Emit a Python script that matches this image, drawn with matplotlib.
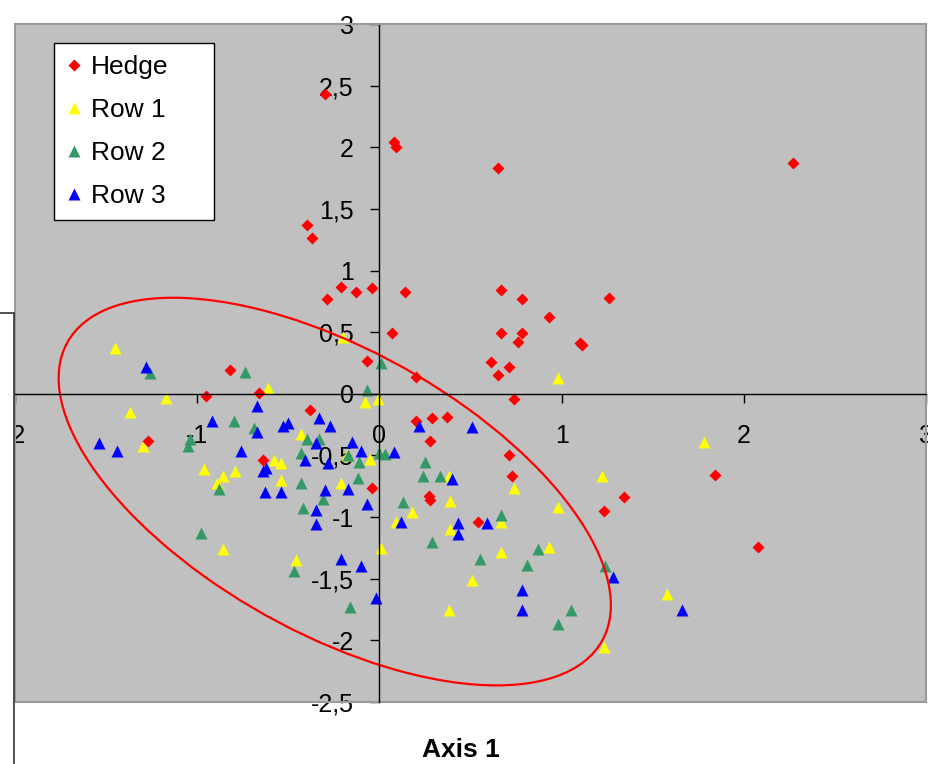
import numpy as np
import matplotlib
matplotlib.use("Agg")
import matplotlib.pyplot as plt
from matplotlib.patches import Ellipse, Rectangle
from matplotlib.ticker import FuncFormatter, MultipleLocator

matplotlib.rcParams['font.family'] = 'Liberation Sans'

# Hedge samples (axis 1, axis 2)
hedge_x = [-0.30, 0.08, 0.09, 0.65, 2.27, -0.40, -0.37, -0.29, -0.21, -0.13,
           -0.04, 0.14, 0.67, 0.78, 1.26, 0.93, 0.67, 0.07, 0.78, 0.76,
           1.11, 1.10, 0.61, 0.71, 0.65, -0.07, 0.20, -0.82, -0.95, -0.66,
           0.74, -0.38, 0.20, 0.29, 0.37, 0.28, -1.27, -0.64, -0.04, 0.28,
           0.27, 0.71, 0.73, 0.54, 1.23, 1.34, 1.84, 2.08]
hedge_y = [2.43, 2.04, 2.00, 1.83, 1.87, 1.37, 1.26, 0.77, 0.87, 0.83,
           0.86, 0.83, 0.84, 0.77, 0.78, 0.62, 0.49, 0.49, 0.49, 0.42,
           0.40, 0.41, 0.26, 0.22, 0.15, 0.27, 0.14, 0.19, -0.02, 0.01,
           -0.04, -0.13, -0.22, -0.20, -0.19, -0.38, -0.38, -0.54, -0.76, -0.86,
           -0.83, -0.50, -0.67, -1.04, -0.95, -0.84, -0.66, -1.24]

# Row 1
row1_x = [-1.45, -1.17, -1.37, -1.30, -0.61, -0.96, -0.86, -0.89, -0.79, -0.58,
          -0.54, -0.54, -0.43, -0.08, -0.01, -0.18, -0.05, -0.21, 0.09, 0.18,
          0.39, 0.38, 0.39, 0.01, -0.46, -0.86, 0.38, 0.51, -0.20, 0.98,
          0.74, 1.22, 0.98, 0.67, 0.93, 0.67, 1.58, 1.23, 1.78]
row1_y = [0.37, -0.03, -0.15, -0.42, 0.05, -0.61, -0.67, -0.72, -0.63, -0.54,
          -0.56, -0.70, -0.33, -0.07, -0.04, -0.50, -0.53, -0.72, -1.04, -0.96,
          -0.87, -0.67, -1.10, -1.25, -1.35, -1.26, -1.75, -1.51, 0.46, 0.13,
          -0.76, -0.67, -0.92, -1.04, -1.24, -1.28, -1.62, -2.05, -0.39]

# Row 2
row2_x = [-1.26, -0.74, -0.80, -0.69, -1.04, -1.05, -0.88, -0.98, -0.07, 0.01,
          -0.43, -0.40, -0.33, -0.43, -0.11, -0.12, -0.17, 0.00, 0.03, -0.31,
          -0.42, -0.47, -0.16, 0.13, 0.25, 0.24, 0.33, 0.29, 0.67, 0.55,
          0.81, 0.87, 1.24, 1.05, 0.98]
row2_y = [0.17, 0.18, -0.22, -0.28, -0.37, -0.42, -0.77, -1.13, 0.03, 0.25,
          -0.72, -0.37, -0.37, -0.48, -0.55, -0.68, -0.50, -0.48, -0.49, -0.85,
          -0.93, -1.44, -1.73, -0.88, -0.55, -0.67, -0.67, -1.20, -0.98, -1.34,
          -1.39, -1.26, -1.40, -1.75, -1.87]

# Row 3
row3_x = [-1.28, -0.67, -0.92, -0.67, -1.54, -1.44, -0.76, -0.53, -0.64, -0.62,
          -0.63, -0.54, -0.50, -0.33, -0.27, -0.41, -0.35, -0.28, -0.15, -0.10,
          0.08, -0.30, -0.17, -0.35, -0.35, -0.07, 0.12, -0.21, -0.10, -0.02,
          0.22, 0.40, 0.43, 0.43, 0.51, 0.59, 0.78, 0.78, 1.28, 1.66]
row3_y = [0.22, -0.10, -0.22, -0.31, -0.40, -0.46, -0.46, -0.26, -0.63, -0.60,
          -0.80, -0.80, -0.24, -0.20, -0.26, -0.54, -0.40, -0.56, -0.39, -0.46,
          -0.47, -0.78, -0.77, -0.94, -1.06, -0.89, -1.04, -1.34, -1.40, -1.66,
          -0.26, -0.69, -1.05, -1.14, -0.27, -1.05, -1.59, -1.75, -1.49, -1.75]

# confidence ellipse around the rows
ell_center = (-0.245, -0.793)
ell_width = 3.89
ell_height = 1.986
ell_angle = -46.8

fig = plt.figure(figsize=(9.29, 7.64), dpi=100)
ax = fig.add_axes([15 / 929, 62 / 764, 911 / 929, 678 / 764])
ax.set_facecolor('#C0C0C0')
ax.set_xlim(-2, 3)
ax.set_ylim(-2.5, 3)

MS_TRI = 9
h1, = ax.plot(row1_x, row1_y, '^', color='#FFFF00', ms=MS_TRI, mec='none', label='Row 1', zorder=2.0)
h2, = ax.plot(row2_x, row2_y, '^', color='#339966', ms=MS_TRI, mec='none', label='Row 2', zorder=2.05)
h0, = ax.plot(hedge_x, hedge_y, 'D', color='#FF0000', ms=5.8, mec='none', label='Hedge', zorder=2.1)
h3, = ax.plot(row3_x, row3_y, '^', color='#0000FF', ms=MS_TRI, mec='none', label='Row 3', zorder=2.15)

ax.add_patch(Ellipse(ell_center, ell_width, ell_height, angle=ell_angle,
                     fill=False, edgecolor='#FF0000', lw=1.6, zorder=2.3))

# axes crossing at origin
ax.spines['left'].set_position('zero')
ax.spines['bottom'].set_position('zero')
for s in ['left', 'bottom']:
    ax.spines[s].set_color('black')
    ax.spines[s].set_linewidth(1.0)
for s in ['top', 'right']:
    ax.spines[s].set_color('#9a9a9a')
    ax.spines[s].set_linewidth(1.5)
ax.add_patch(Rectangle((0, 0), 1, 1, transform=ax.transAxes, fill=False,
                       edgecolor='#9a9a9a', lw=1.5, zorder=2.4, clip_on=False))

fmt = FuncFormatter(lambda v, p: f'{v:g}'.replace('.', ','))
ax.xaxis.set_major_locator(MultipleLocator(1))
ax.yaxis.set_major_locator(MultipleLocator(0.5))
ax.xaxis.set_major_formatter(fmt)
ax.yaxis.set_major_formatter(fmt)
ax.tick_params(axis='x', direction='out', length=6.5, width=1, pad=15, labelsize=18)
ax.tick_params(axis='y', direction='out', length=6.5, width=1, pad=12, labelsize=18)

leg = ax.legend(handles=[h0, h1, h2, h3], loc='upper left',
                bbox_to_anchor=(39 / 911, 0.972, 160 / 911, 0.0), mode='expand',
                borderaxespad=0, fontsize=19, fancybox=False, framealpha=1,
                edgecolor='black', handlelength=0.6, handletextpad=0.35,
                labelspacing=0.72, borderpad=0.45, numpoints=1)
leg.get_frame().set_linewidth(1.0)
leg.set_zorder(10)

fig.text(461 / 929, 1 - 750 / 764, 'Axis 1', ha='center', va='center',
         fontsize=19, fontweight='bold')

# white box covering the left edge below the legend
fig.add_artist(Rectangle((-10 / 929, -10 / 764), 24 / 929, (764 - 313 + 10) / 764,
                         transform=fig.transFigure, facecolor='white',
                         edgecolor='#333333', lw=1.2, zorder=5))

fig.savefig('out.png', dpi=100)
